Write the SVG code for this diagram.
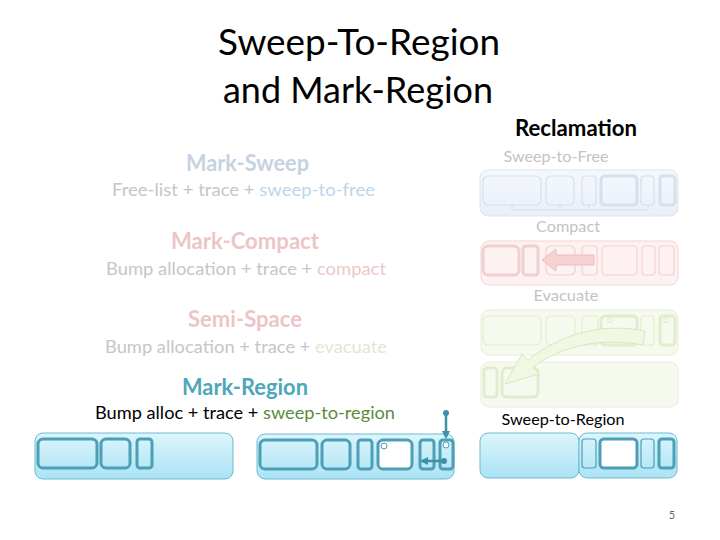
<svg xmlns="http://www.w3.org/2000/svg" width="720" height="540" viewBox="0 0 720 540">
<defs>
<linearGradient id="gBlue" x1="0" y1="0" x2="0" y2="1"><stop offset="0" stop-color="#dcf5fc"/><stop offset="1" stop-color="#abe3f4"/></linearGradient>
<linearGradient id="gFree" x1="0" y1="0" x2="0" y2="1"><stop offset="0" stop-color="#f5f8fd"/><stop offset="1" stop-color="#e9eff9"/></linearGradient>
<marker id="ah" markerWidth="8" markerHeight="8" refX="6" refY="4" orient="auto" markerUnits="userSpaceOnUse"><path d="M0,0 L8,4 L0,8 Z" fill="#3f8fa8"/></marker>
<style>
text{font-family:Lato,"Open Sans","Liberation Sans",sans-serif}
.title{font-size:37px;fill:#000;text-anchor:middle}
.head{font-size:22px;font-weight:bold;text-anchor:middle}
.sub{font-size:17.5px;text-anchor:middle}
.rlab{font-size:16px;text-anchor:middle;fill:#c3c3c3}
.blue{fill:url(#gBlue);stroke:#6cbbd0;stroke-width:1}
.bc{fill:none;stroke:#4c9fb6;stroke-width:3}
.bct{fill:none;stroke:#4c9fb6;stroke-width:1.2}
.free{fill:url(#gFree);stroke:#dce4f0;stroke-width:1}
.fc{fill:none;stroke:#d6dfec;stroke-width:1.2}
.fct{fill:none;stroke:#d6dfec;stroke-width:3}
.cmp{fill:#fdf1f1;stroke:#f2d4d4;stroke-width:1}
.cc{fill:none;stroke:#f0d2d2;stroke-width:1.2}
.cct{fill:none;stroke:#efcfcf;stroke-width:3}
.evc{fill:#f6faee;stroke:#e6efd6;stroke-width:1}
.ec{fill:none;stroke:#e3ecd0;stroke-width:1.2}
.ect{fill:none;stroke:#e1ebcd;stroke-width:3}
</style>
</defs>
<rect width="720" height="540" fill="#fff"/>

<g id="title">
<text class="title" x="359" y="55" textLength="282" lengthAdjust="spacingAndGlyphs">Sweep-To-Region</text>
<text class="title" x="358" y="103" textLength="270" lengthAdjust="spacingAndGlyphs">and Mark-Region</text>
</g>

<g id="left-text">
<text class="head" x="247.5" y="171" fill="#c6d2e2" textLength="123" lengthAdjust="spacingAndGlyphs">Mark-Sweep</text>
<text class="sub" x="243.5" y="196" fill="#c6c6c6" textLength="263" lengthAdjust="spacingAndGlyphs">Free-list + trace + <tspan fill="#bdd6ea">sweep-to-free</tspan></text>
<text class="head" x="245" y="249" fill="#ebc6c6" textLength="148" lengthAdjust="spacingAndGlyphs">Mark-Compact</text>
<text class="sub" x="246" y="275" fill="#c6c6c6" textLength="280" lengthAdjust="spacingAndGlyphs">Bump allocation + trace + <tspan fill="#ecc8c8">compact</tspan></text>
<text class="head" x="245" y="327" fill="#ebc6c6" textLength="114" lengthAdjust="spacingAndGlyphs">Semi-Space</text>
<text class="sub" x="246" y="353" fill="#c6c6c6" textLength="282" lengthAdjust="spacingAndGlyphs">Bump allocation + trace + <tspan fill="#e2e8d0">evacuate</tspan></text>
<text class="head" x="245" y="395" fill="#4ea6bb" textLength="126" lengthAdjust="spacingAndGlyphs">Mark-Region</text>
<text class="sub" x="245" y="419" fill="#000" textLength="300" lengthAdjust="spacingAndGlyphs">Bump alloc + trace + <tspan fill="#5b8c3c">sweep-to-region</tspan></text>
</g>

<g id="reclamation">
<text x="576" y="136" font-size="22" font-weight="bold" text-anchor="middle" fill="#000" textLength="122" lengthAdjust="spacingAndGlyphs">Reclamation</text>
</g>

<g id="sweep-to-free">
<text class="rlab" x="556" y="162" textLength="105" lengthAdjust="spacingAndGlyphs">Sweep-to-Free</text>
<rect class="free" x="480" y="170" width="198" height="46" rx="8"/>
<rect class="fc" x="483" y="176" width="58" height="29" rx="5"/>
<rect class="fc" x="546" y="176" width="28" height="29" rx="5"/>
<rect class="fc" x="582" y="176" width="14" height="29" rx="3"/>
<rect class="fct" x="601" y="176" width="36" height="29" rx="4"/>
<rect class="fc" x="641" y="176" width="13" height="29" rx="3"/>
<rect class="fct" x="660" y="176" width="15" height="29" rx="3"/>
<path d="M512 205 V210 M560 205 V210 M589 205 V210 M648 205 V210 M512 210 H648" fill="none" stroke="#d6dfec" stroke-width="1.2"/>
</g>

<g id="compact">
<text class="rlab" x="568" y="232" textLength="64" lengthAdjust="spacingAndGlyphs">Compact</text>
<rect class="cmp" x="481" y="241" width="197" height="44" rx="8"/>
<rect class="cct" x="483" y="246" width="36" height="29" rx="5"/>
<rect class="cct" x="523" y="246" width="15" height="29" rx="3"/>
<rect class="cc" x="546" y="246" width="29" height="29" rx="5"/>
<rect class="cc" x="582" y="246" width="15" height="29" rx="3"/>
<rect class="cc" x="602" y="246" width="35" height="29" rx="4"/>
<rect class="cc" x="642" y="246" width="13" height="29" rx="3"/>
<rect class="cc" x="659" y="246" width="15" height="29" rx="3"/>
<path d="M594 255 L556 255 L556 249 L542 260 L556 271 L556 265 L594 265 Z" fill="#f6d2d2" stroke="#eebcbc" stroke-width="1"/>
</g>

<g id="evacuate">
<text class="rlab" x="566" y="301" textLength="65" lengthAdjust="spacingAndGlyphs">Evacuate</text>
<rect class="evc" x="481" y="310" width="197" height="45" rx="8"/>
<rect class="ec" x="483" y="316" width="58" height="29" rx="5"/>
<rect class="ec" x="546" y="316" width="29" height="29" rx="5"/>
<rect class="ec" x="582" y="316" width="16" height="29" rx="3"/>
<rect class="ect" x="601" y="316" width="36" height="29" rx="4"/>
<rect class="ec" x="641" y="316" width="13" height="29" rx="3"/>
<rect class="ect" x="660" y="316" width="15" height="29" rx="3"/>
<circle cx="610" cy="320" r="2.5" fill="none" stroke="#dfe9cb" stroke-width="1"/>
<circle cx="666" cy="320" r="2.5" fill="none" stroke="#dfe9cb" stroke-width="1"/>
<rect class="evc" x="481" y="362" width="197" height="45" rx="8"/>
<rect class="ect" x="484" y="368" width="13" height="29" rx="3"/>
<rect class="ect" x="502" y="368" width="36" height="29" rx="5"/>
<path d="M645 331 C600 322 560 335 528 360 L522 354 L505 384 L539 374 L533 367 C562 346 600 337 643 345 Z" fill="#f1f7e3" stroke="#d9e7bf" stroke-width="1"/>
</g>

<g id="mark-region-left">
<rect class="blue" x="35" y="433" width="198" height="46" rx="8"/>
<rect class="bc" x="38" y="439" width="59" height="29" rx="5"/>
<rect class="bc" x="101" y="439" width="29" height="29" rx="5"/>
<rect class="bc" x="137" y="439" width="15" height="29" rx="3"/>
</g>

<g id="mark-region-mid">
<rect class="blue" x="257" y="434" width="197" height="45" rx="8"/>
<rect class="bc" x="260" y="440" width="57" height="29" rx="5"/>
<rect class="bc" x="322" y="440" width="28" height="29" rx="5"/>
<rect class="bc" x="358" y="440" width="14" height="29" rx="3"/>
<rect x="378" y="440" width="34" height="29" rx="5" fill="#fff" stroke="#4c9fb6" stroke-width="3"/>
<rect class="bc" x="420" y="440" width="14" height="29" rx="3"/>
<rect class="bc" x="440" y="440" width="13" height="29" rx="3"/>
<circle cx="384" cy="446" r="3" fill="#fff" stroke="#4c9fb6" stroke-width="1"/>
<circle cx="446" cy="445" r="3" fill="#fff" stroke="#4c9fb6" stroke-width="1"/>
</g>

<g id="sweep-to-region">
<text x="563" y="425" font-size="16" text-anchor="middle" fill="#000" textLength="123" lengthAdjust="spacingAndGlyphs">Sweep-to-Region</text>
<rect class="blue" x="480" y="433" width="99" height="45" rx="8"/>
<rect class="blue" x="579" y="433" width="98" height="45" rx="8"/>
<rect class="bct" x="582" y="439" width="14" height="29" rx="3"/>
<rect x="600" y="439" width="37" height="29" rx="4" fill="#fff" stroke="#4c9fb6" stroke-width="3"/>
<rect class="bct" x="641" y="439" width="13" height="29" rx="3"/>
<rect class="bc" x="659" y="439" width="15" height="29" rx="3"/>
</g>

<g id="connectors">
<circle cx="446" cy="413" r="3" fill="#3f8fa8"/>
<line x1="446" y1="413" x2="446" y2="437" stroke="#3f8fa8" stroke-width="2.5" marker-end="url(#ah)"/>
<circle cx="444" cy="461" r="3" fill="#3f8fa8"/>
<line x1="444" y1="461" x2="422" y2="461" stroke="#3f8fa8" stroke-width="2.5" marker-end="url(#ah)"/>
</g>

<g id="page-number">
<text x="672" y="519" font-size="11" text-anchor="middle" fill="#666">5</text>
</g>
</svg>
